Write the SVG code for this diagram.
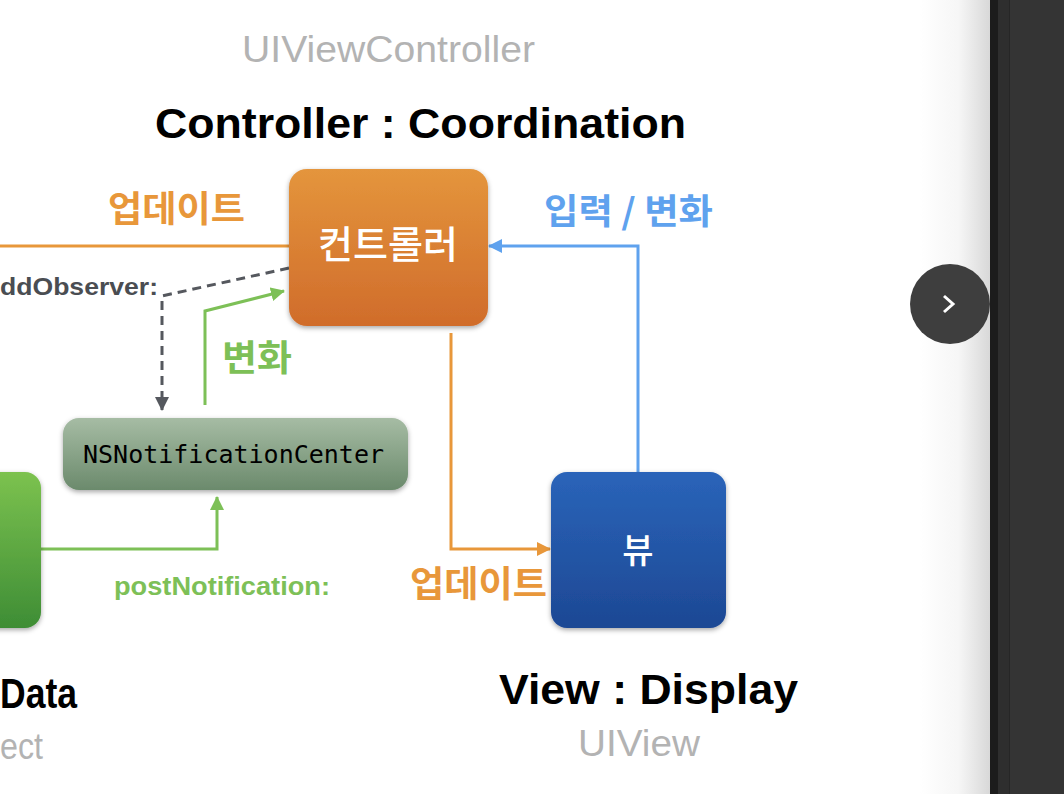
<svg xmlns="http://www.w3.org/2000/svg" width="1064" height="794" viewBox="0 0 1064 794">
<style>
.t{font-family:"Liberation Sans","Noto Sans CJK KR",sans-serif}
.ko{font-family:"Noto Sans CJK KR",sans-serif;font-weight:bold}
.big{font-size:42px;font-weight:bold;fill:#000}
.sub{font-size:37px;fill:#b3b3b3}
.or{fill:#e8973a}
.gr{fill:#7dc057}
.bl{fill:#5fa2ee}
</style>
<defs>
<linearGradient id="fade" x1="0" x2="1" y1="0" y2="0">
<stop offset="0" stop-color="#ffffff"/>
<stop offset="0.55" stop-color="#f6f6f6"/>
<stop offset="1" stop-color="#d8d8d8"/>
</linearGradient>
<linearGradient id="gOr" x1="0" x2="0" y1="0" y2="1">
<stop offset="0" stop-color="#e4953c"/>
<stop offset="1" stop-color="#d06c2b"/>
</linearGradient>
<linearGradient id="gNs" x1="0" x2="0" y1="0" y2="1">
<stop offset="0" stop-color="#a6bca4"/>
<stop offset="1" stop-color="#6b8a6c"/>
</linearGradient>
<linearGradient id="gGr" x1="0" x2="0" y1="0" y2="1">
<stop offset="0" stop-color="#7cc24f"/>
<stop offset="1" stop-color="#3e8d35"/>
</linearGradient>
<linearGradient id="gBl" x1="0" x2="0" y1="0" y2="1">
<stop offset="0" stop-color="#2a64b9"/>
<stop offset="1" stop-color="#1d4894"/>
</linearGradient>
<filter id="sh" x="-20%" y="-20%" width="140%" height="140%">
<feDropShadow dx="0" dy="2" stdDeviation="2.5" flood-color="#000" flood-opacity="0.35"/>
</filter>
<marker id="aOr" markerWidth="14" markerHeight="14" refX="13" refY="7" orient="auto" markerUnits="userSpaceOnUse"><path d="M0,0 L14,7 L0,14 z" fill="#e8973a"/></marker>
<marker id="aBl" markerWidth="14" markerHeight="14" refX="13" refY="7" orient="auto" markerUnits="userSpaceOnUse"><path d="M0,0 L14,7 L0,14 z" fill="#5fa2ee"/></marker>
<marker id="aGr" markerWidth="14" markerHeight="14" refX="13" refY="7" orient="auto" markerUnits="userSpaceOnUse"><path d="M0,0 L14,7 L0,14 z" fill="#7dc057"/></marker>
<marker id="aDk" markerWidth="14" markerHeight="14" refX="13" refY="7" orient="auto" markerUnits="userSpaceOnUse"><path d="M0,0 L14,7 L0,14 z" fill="#55585e"/></marker>
</defs>
<rect width="1064" height="794" fill="#ffffff"/>
<rect x="920" y="0" width="70" height="794" fill="url(#fade)"/>
<rect x="990" y="0" width="8" height="794" fill="#1c1c1c"/>
<rect x="998" y="0" width="11" height="794" fill="#2e2e2e"/>
<rect x="1009" y="0" width="55" height="794" fill="#343434"/>
<line x1="1009.5" y1="0" x2="1009.5" y2="794" stroke="#262626" stroke-width="1"/>
<g id="next-button">
<circle cx="950" cy="304" r="40" fill="#3e3e3e"/>
<path d="M944,296 L953,304 L944,312" fill="none" stroke="#ffffff" stroke-width="3"/>
</g>
<g id="connectors" fill="none">
<line x1="0" y1="246" x2="289" y2="246" stroke="#e8973a" stroke-width="3"/>
<polyline points="289,268 162,296 162,410" stroke="#55585e" stroke-width="3" stroke-dasharray="9,6" marker-end="url(#aDk)"/>
<polyline points="205,405 205,311 284,291" stroke="#7dc057" stroke-width="3" marker-end="url(#aGr)"/>
<polyline points="41,549 217,549 217,497" stroke="#7dc057" stroke-width="3" marker-end="url(#aGr)"/>
<polyline points="451,333 451,549 550,549" stroke="#e8973a" stroke-width="3" marker-end="url(#aOr)"/>
<polyline points="638,472 638,246 489,246" stroke="#5fa2ee" stroke-width="3" marker-end="url(#aBl)"/>
</g>
<g id="labels">
<text class="ko or" x="108" y="222" font-size="36" textLength="137" lengthAdjust="spacingAndGlyphs">업데이트</text>
<text class="t" x="0" y="295" font-size="24" font-weight="bold" fill="#4a4d52" textLength="158" lengthAdjust="spacingAndGlyphs">ddObserver:</text>
<text class="ko gr" x="222" y="371" font-size="36" textLength="70" lengthAdjust="spacingAndGlyphs">변화</text>
<text class="t gr" x="114" y="595" font-size="25" font-weight="bold" textLength="216" lengthAdjust="spacingAndGlyphs">postNotification:</text>
<text class="ko or" x="410" y="597" font-size="36" textLength="137" lengthAdjust="spacingAndGlyphs">업데이트</text>
<text class="ko bl" x="544" y="224" font-size="35" textLength="169" lengthAdjust="spacingAndGlyphs">입력 / 변화</text>
</g>
<g id="controller">
<text class="t sub" x="242" y="62" textLength="293" lengthAdjust="spacingAndGlyphs">UIViewController</text>
<text class="t big" x="155" y="138" textLength="531" lengthAdjust="spacingAndGlyphs">Controller : Coordination</text>
<rect x="289" y="169" width="199" height="157" rx="18" fill="url(#gOr)" filter="url(#sh)"/>
<text class="ko" x="388" y="258" font-size="38" fill="#ffffff" text-anchor="middle" style="font-weight:500">컨트롤러</text>
</g>
<g id="notification-center">
<rect x="63" y="418" width="345" height="72" rx="16" fill="url(#gNs)" filter="url(#sh)"/>
<text x="83" y="463" font-family="'DejaVu Sans Mono','Liberation Mono',monospace" font-size="24" fill="#000" textLength="301" lengthAdjust="spacingAndGlyphs">NSNotificationCenter</text>
</g>
<g id="model">
<rect x="-30" y="472" width="71" height="156" rx="16" fill="url(#gGr)" filter="url(#sh)"/>
<text class="t big" x="0" y="708" textLength="77" lengthAdjust="spacingAndGlyphs">Data</text>
<text class="t sub" x="0" y="759" textLength="43" lengthAdjust="spacingAndGlyphs">ect</text>
</g>
<g id="view">
<rect x="551" y="472" width="175" height="156" rx="16" fill="url(#gBl)" filter="url(#sh)"/>
<text class="ko" x="638" y="563" font-size="34" fill="#ffffff" text-anchor="middle" style="font-weight:500">뷰</text>
<text class="t big" x="499" y="704" textLength="299" lengthAdjust="spacingAndGlyphs">View : Display</text>
<text class="t sub" x="578" y="756" textLength="122" lengthAdjust="spacingAndGlyphs">UIView</text>
</g>
</svg>
